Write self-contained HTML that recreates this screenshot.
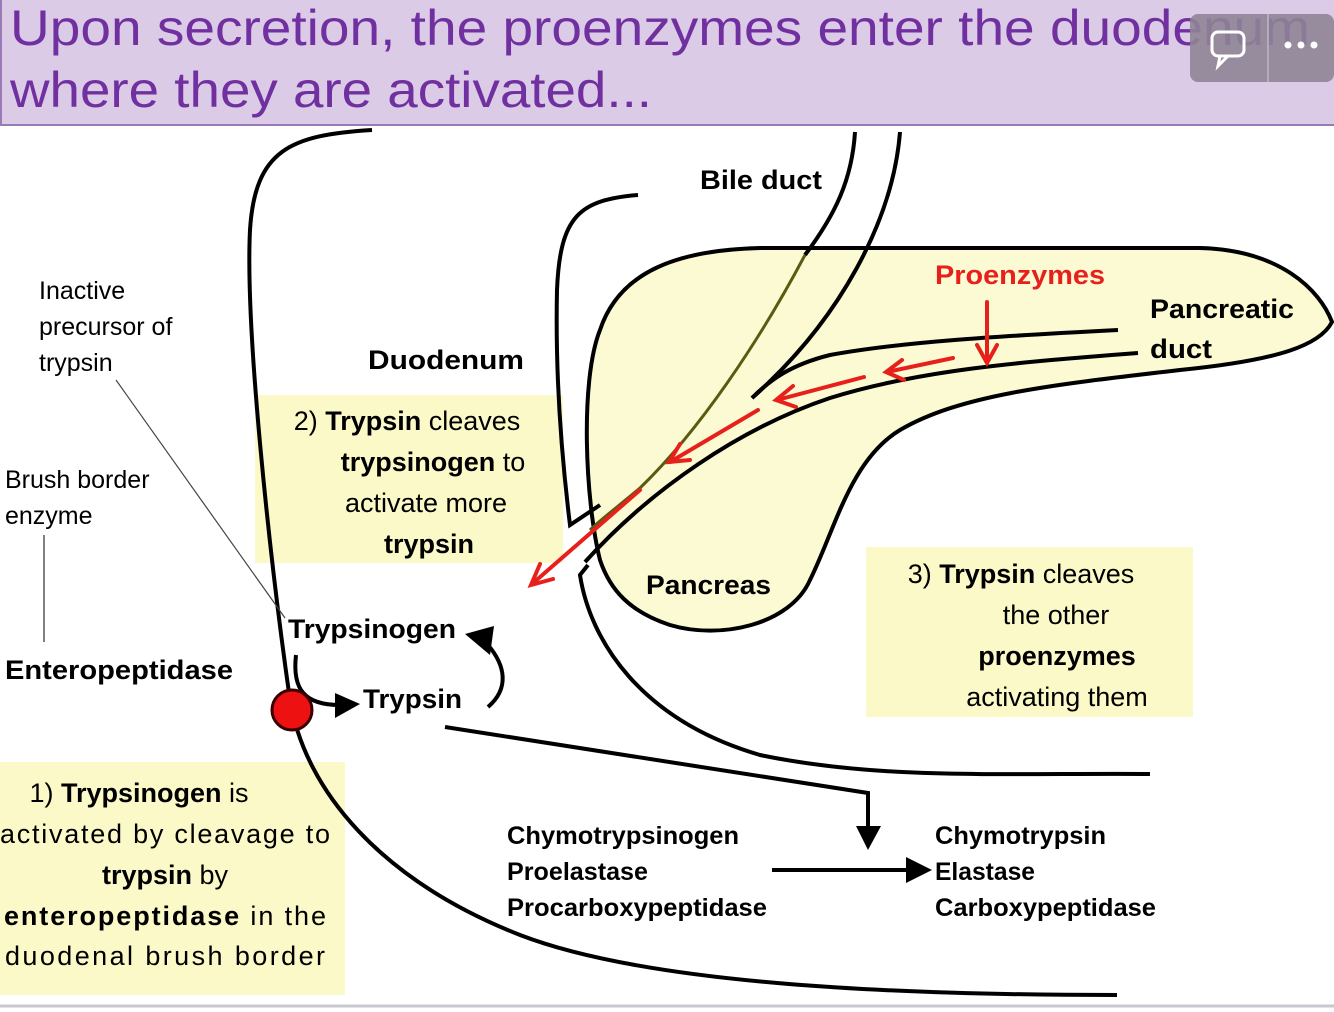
<!DOCTYPE html>
<html><head><meta charset="utf-8"><style>
html,body{margin:0;padding:0;background:#fff;}
svg{display:block;font-family:"Liberation Sans",sans-serif;}
.b{font-weight:bold;}
</style></head><body>
<svg width="1334" height="1012" viewBox="0 0 1334 1012" xmlns="http://www.w3.org/2000/svg">
<rect x="0" y="0" width="1334" height="125" fill="#dccbe6"/>
<line x1="0" y1="125" x2="1334" y2="125" stroke="#9b7bb5" stroke-width="2"/>
<line x1="1" y1="0" x2="1" y2="125" stroke="#9b7bb5" stroke-width="2"/>
<text x="10" y="45" font-size="50" fill="#7030a0" textLength="1300" lengthAdjust="spacingAndGlyphs">Upon secretion, the proenzymes enter the duodenum</text>
<text x="10" y="107" font-size="50" fill="#7030a0" textLength="642" lengthAdjust="spacingAndGlyphs">where they are activated...</text>
<rect x="1190" y="14" width="144" height="68" rx="8" fill="#8f8496" opacity="0.9"/>
<line x1="1268" y1="14" x2="1268" y2="82" stroke="#b5acbb" stroke-width="2"/>
<rect x="1212" y="32" width="32" height="24" rx="6" fill="none" stroke="#fff" stroke-width="3"/>
<path d="M1220,56 L1218,66 L1228,56" fill="none" stroke="#fff" stroke-width="3"/>
<circle cx="1288" cy="45" r="3.5" fill="#fff"/><circle cx="1301" cy="45" r="3.5" fill="#fff"/><circle cx="1314" cy="45" r="3.5" fill="#fff"/>

<rect x="255" y="395" width="308" height="168" fill="#fbf9c8"/>
<rect x="866" y="547" width="327" height="170" fill="#fbf9c8"/>
<rect x="0" y="762" width="345" height="233" fill="#fbf9c8"/>

<path d="M600,560 C585,500 580,380 600,330 C620,270 680,250 760,248 L1200,248 C1280,250 1320,290 1332,322 C1320,345 1280,360 1180,370 C1050,385 960,395 900,430 C850,460 835,530 810,580 C790,625 720,640 670,625 C630,612 610,590 600,560 Z" fill="#fbfad2" stroke="#000" stroke-width="4"/>

<path d="M372,130 C290,135 255,150 250,230 C245,330 270,560 290,700 C305,790 380,880 520,935 C650,985 900,995 1117,995" fill="none" stroke="#000" stroke-width="4"/>
<path d="M638,195 C580,200 560,215 557,290 C555,380 562,460 570,525 L600,505" fill="none" stroke="#000" stroke-width="4"/>
<path d="M588,565 L580,575 C590,640 640,720 760,755 C880,780 1000,773 1150,774" fill="none" stroke="#000" stroke-width="4"/>

<path d="M855,132 C852,180 835,215 805,255" fill="none" stroke="#000" stroke-width="4"/>
<path d="M805,255 C760,340 700,430 640,488 C620,505 600,520 590,530" fill="none" stroke="#5a5a10" stroke-width="3"/>
<path d="M900,132 C893,220 840,320 752,398" fill="none" stroke="#000" stroke-width="4"/>

<path d="M1118,330 C1000,336 900,342 830,355 C790,365 770,380 752,398" fill="none" stroke="#000" stroke-width="4"/>
<path d="M1138,353 C1020,362 920,370 830,398 C740,428 650,490 585,562" fill="none" stroke="#000" stroke-width="4"/>

<g stroke="#e8201c" stroke-width="4" fill="none" stroke-linecap="round">
<line x1="987" y1="302" x2="987" y2="362"/><path d="M977,345 L987,363 L997,345"/>
<line x1="953" y1="358" x2="887" y2="372"/><path d="M902,360 L886,372 L904,380"/>
<line x1="864" y1="377" x2="777" y2="400"/><path d="M793,386 L776,400 L796,407"/>
<line x1="758" y1="410" x2="670" y2="462"/><path d="M680,444 L669,462 L690,460"/>
<line x1="640" y1="490" x2="532" y2="584"/><path d="M540,564 L531,585 L553,579"/>
</g>

<text x="700" y="189" font-size="27" class="b" textLength="122" lengthAdjust="spacingAndGlyphs">Bile duct</text>
<text x="935" y="284" font-size="27" class="b" fill="#e8201c" textLength="170" lengthAdjust="spacingAndGlyphs">Proenzymes</text>
<text x="1150" y="318" font-size="27" class="b" textLength="144" lengthAdjust="spacingAndGlyphs">Pancreatic</text>
<text x="1150" y="358" font-size="27" class="b" textLength="62" lengthAdjust="spacingAndGlyphs">duct</text>
<text x="368" y="369" font-size="27" class="b" textLength="156" lengthAdjust="spacingAndGlyphs">Duodenum</text>
<text x="646" y="594" font-size="27" class="b" textLength="125" lengthAdjust="spacingAndGlyphs">Pancreas</text>

<g font-size="27" text-anchor="middle">
<text x="407" y="430">2) <tspan class="b">Trypsin</tspan> cleaves</text>
<text x="433" y="471"><tspan class="b">trypsinogen</tspan> to</text>
<text x="426" y="512">activate more</text>
<text x="429" y="553" class="b">trypsin</text>
<text x="1021" y="583">3) <tspan class="b">Trypsin</tspan> cleaves</text>
<text x="1056" y="624">the other</text>
<text x="1057" y="665" class="b">proenzymes</text>
<text x="1057" y="706">activating them</text>
<text x="139" y="802">1) <tspan class="b">Trypsinogen</tspan> is</text>
<text x="165" y="843" textLength="330" lengthAdjust="spacing">activated by cleavage  to</text>
<text x="165" y="884"><tspan class="b">trypsin</tspan> by</text>
<text x="165" y="925" textLength="322" lengthAdjust="spacing"><tspan class="b">enteropeptidase</tspan> in  the</text>
<text x="165" y="965" textLength="320" lengthAdjust="spacing">duodenal brush  border</text>
</g>

<g font-size="25">
<text x="39" y="299">Inactive</text>
<text x="39" y="335">precursor of</text>
<text x="39" y="371">trypsin</text>
<text x="5" y="488">Brush border</text>
<text x="5" y="524">enzyme</text>
</g>
<line x1="44" y1="535" x2="44" y2="642" stroke="#555" stroke-width="1.5"/>
<line x1="116" y1="380" x2="285" y2="618" stroke="#444" stroke-width="1.2"/>
<text x="5" y="679" font-size="27" class="b" textLength="228" lengthAdjust="spacingAndGlyphs">Enteropeptidase</text>
<text x="288" y="638" font-size="27" class="b" textLength="168" lengthAdjust="spacingAndGlyphs">Trypsinogen</text>
<text x="363" y="708" font-size="27" class="b" textLength="99" lengthAdjust="spacingAndGlyphs">Trypsin</text>

<path d="M296,655 C292,690 305,705 340,705" fill="none" stroke="#000" stroke-width="4"/>
<path d="M335,693 L360,704 L335,718 Z" fill="#000"/>
<path d="M488,707 C510,688 505,665 488,645" fill="none" stroke="#000" stroke-width="4"/>
<path d="M465,634 L494,626 L490,655 Z" fill="#000"/>
<circle cx="292" cy="710" r="20" fill="#ee1111" stroke="#3a0000" stroke-width="3"/>

<path d="M445,727 L868,793 L868,830" fill="none" stroke="#000" stroke-width="4"/>
<path d="M856,826 L868,850 L881,826 Z" fill="#000"/>
<line x1="772" y1="870" x2="910" y2="870" stroke="#000" stroke-width="4"/>
<path d="M906,857 L932,870 L906,883 Z" fill="#000"/>

<g font-size="25" class="b">
<text x="507" y="844" textLength="232" lengthAdjust="spacingAndGlyphs">Chymotrypsinogen</text>
<text x="507" y="880" textLength="141" lengthAdjust="spacingAndGlyphs">Proelastase</text>
<text x="507" y="916" textLength="260" lengthAdjust="spacingAndGlyphs">Procarboxypeptidase</text>
<text x="935" y="844" textLength="171" lengthAdjust="spacingAndGlyphs">Chymotrypsin</text>
<text x="935" y="880" textLength="100" lengthAdjust="spacingAndGlyphs">Elastase</text>
<text x="935" y="916" textLength="221" lengthAdjust="spacingAndGlyphs">Carboxypeptidase</text>
</g>
<line x1="0" y1="1006" x2="1334" y2="1006" stroke="#c8c8d0" stroke-width="3"/>
</svg>
</body></html>
